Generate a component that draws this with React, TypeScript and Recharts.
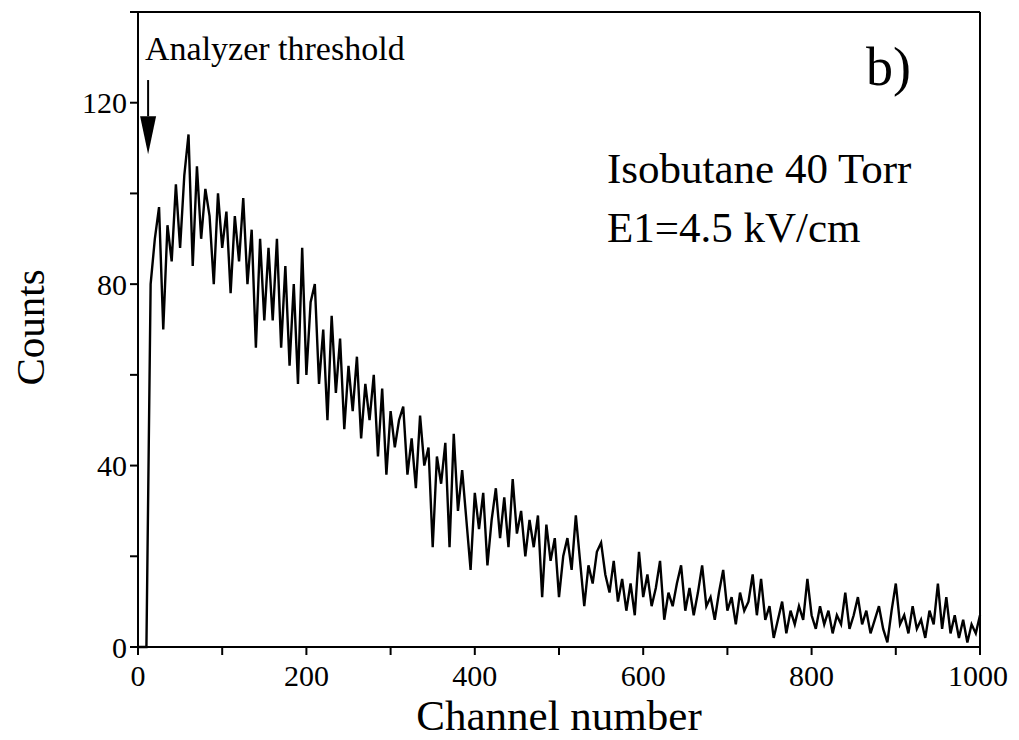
import { LineChart, Line, XAxis, YAxis, ReferenceLine, ReferenceDot, Label } from 'recharts';

// spectrum, one value every 5 channels (0..1000)
const CHANNEL_STEP = 5;
const counts = [
  0, 0,
  0, 80, 90, 97, 70, 93, 85, 102, 88, 104,
  113, 84, 106, 90, 101, 95, 80, 100, 88, 96,
  78, 95, 85, 99, 80, 92, 66, 90, 72, 88,
  72, 90, 66, 84, 62, 80, 58, 88, 60, 76,
  80, 58, 70, 50, 73, 56, 68, 48, 62, 52,
  64, 46, 58, 50, 60, 42, 57, 38, 52, 44,
  50, 53, 38, 46, 35, 51, 40, 44, 22, 42,
  36, 45, 22, 47, 30, 39, 28, 17, 34, 26,
  34, 18, 28, 35, 24, 33, 22, 37, 25, 30,
  20, 28, 22, 29, 11, 27, 19, 24, 11, 20,
  24, 17, 29, 19, 9, 18, 14, 21, 23, 16,
  12, 19, 10, 15, 8, 14, 7, 21, 11, 16,
  9, 13, 19, 6, 12, 9, 14, 18, 8, 13,
  7, 12, 18, 9, 11, 6, 12, 17, 8, 11,
  5, 12, 8, 10, 16, 7, 15, 6, 9, 2,
  6, 10, 3, 8, 5, 9, 6, 15, 7, 4,
  9, 5, 8, 3, 7, 5, 12, 4, 7, 11,
  5, 8, 3, 6, 9, 4, 1, 8, 14, 5,
  7, 3, 9, 4, 6, 2, 8, 5, 14, 4,
  11, 3, 7, 2, 6, 1, 5, 3, 7,
];

const xTicks = [0, 100, 200, 300, 400, 500, 600, 700, 800, 900, 1000];
const xLabelled = [0, 200, 400, 600, 800, 1000];
const yTicks = [0, 20, 40, 60, 80, 100, 120, 140];
const yLabelled = [0, 40, 80, 120];

// analyzer threshold arrow
const thresholdChannel = 12;
const arrowTop = 125;
const arrowHead = 117;

const data = counts.map((c, i) => ({ channel: i * CHANNEL_STEP, counts: c }));

const FONT = '"Liberation Serif", "Times New Roman", serif';
const W = 1000;
const H = 730;

const tickStyle = { fontSize: 30, fill: '#000', fontFamily: FONT };

const ArrowHead = (props: any) => {
  const { cx, cy } = props;
  return <polygon points={`${cx - 8},${cy} ${cx + 8},${cy} ${cx},${cy + 38}`} fill="#000" />;
};

const App = () => {
  return (
    <div style={{ position: 'relative', width: W, height: H, marginBottom: -8, fontFamily: FONT }}>
      <LineChart
        width={W}
        height={H}
        data={data}
        margin={{ top: 4, right: 28, bottom: 0, left: 0 }}
      >
        <XAxis
          dataKey="channel"
          type="number"
          domain={[0, 1000]}
          ticks={xTicks}
          tickFormatter={(v: number) => (xLabelled.includes(v) ? String(v) : '')}
          height={91}
          tickSize={8}
          tickMargin={10}
          tick={tickStyle}
          stroke="#000"
          strokeWidth={2}
        >
          <Label
            content={({ viewBox }: any) => (
              <text
                x={viewBox.x + viewBox.width / 2}
                y={viewBox.y + 83}
                textAnchor="middle"
                fontSize={43}
                fontFamily={FONT}
                fill="#000"
              >
                Channel number
              </text>
            )}
          />
        </XAxis>
        <YAxis
          type="number"
          domain={[0, 140]}
          ticks={yTicks}
          tickFormatter={(v: number) => (yLabelled.includes(v) ? String(v) : '')}
          width={130}
          tickSize={8}
          tickMargin={3}
          tick={tickStyle}
          stroke="#000"
          strokeWidth={2}
        >
          <Label
            content={({ viewBox }: any) => {
              const x = viewBox.x + 36;
              const y = viewBox.y + viewBox.height / 2 - 2;
              return (
                <text
                  x={x}
                  y={y}
                  transform={`rotate(-90 ${x} ${y})`}
                  textAnchor="middle"
                  fontSize={41}
                  fontFamily={FONT}
                  fill="#000"
                >
                  Counts
                </text>
              );
            }}
          />
        </YAxis>
        <ReferenceLine y={140} stroke="#000" strokeWidth={2} />
        <ReferenceLine x={1000} stroke="#000" strokeWidth={2} />
        <Line
          type="linear"
          dataKey="counts"
          stroke="#000"
          strokeWidth={2.4}
          dot={false}
          isAnimationActive={false}
        />
        <ReferenceLine
          segment={[
            { x: thresholdChannel, y: arrowTop },
            { x: thresholdChannel, y: arrowHead },
          ]}
          stroke="#000"
          strokeWidth={2}
        />
        <ReferenceDot x={thresholdChannel} y={arrowHead} shape={ArrowHead} />
      </LineChart>
      <svg
        width={W}
        height={H}
        style={{ position: 'absolute', left: 0, top: 0, pointerEvents: 'none' }}
      >
        <text x={137} y={52} fontSize={34} fontFamily={FONT} fill="#000">Analyzer threshold</text>
        <text x={858} y={77} fontSize={54} fontFamily={FONT} fill="#000">b)</text>
        <text x={599} y={175} fontSize={43} fontFamily={FONT} fill="#000">Isobutane 40 Torr</text>
        <text x={599} y={234} fontSize={43} fontFamily={FONT} fill="#000">E1=4.5 kV/cm</text>
      </svg>
    </div>
  );
};

export default App;
